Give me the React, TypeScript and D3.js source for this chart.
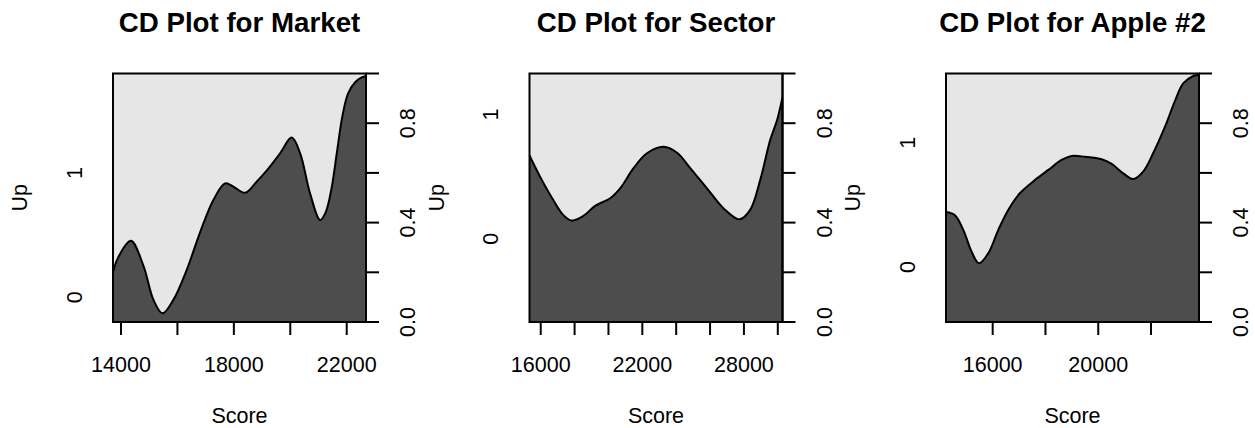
import React from "react";
import * as d3 from "d3";

// Conditional density of "Up" given Score, one panel per universe
const titles = ["CD Plot for Market", "CD Plot for Sector", "CD Plot for Apple #2"];

const marketScore = [13716, 13900, 14350, 14790, 15150, 15470, 15860, 16330, 16800, 17270, 17690, 17980, 18400, 18810, 19170, 19640, 20050, 20350, 20700, 21060, 21250, 21450, 21650, 21850, 22050, 22300, 22500, 22684];
const marketUp = [0.2, 0.26, 0.327, 0.228, 0.089, 0.035, 0.09, 0.21, 0.36, 0.49, 0.558, 0.545, 0.52, 0.565, 0.61, 0.679, 0.742, 0.679, 0.518, 0.41, 0.44, 0.53, 0.68, 0.83, 0.92, 0.965, 0.982, 0.99];

const sectorScore = [15337, 15960, 16750, 17340, 17830, 18520, 19210, 20100, 20690, 21480, 22270, 23250, 24050, 24830, 25820, 26800, 27730, 28370, 28960, 29550, 29960, 30278];
const sectorUp = [0.67, 0.585, 0.49, 0.43, 0.408, 0.427, 0.467, 0.498, 0.538, 0.619, 0.679, 0.705, 0.681, 0.619, 0.538, 0.457, 0.413, 0.451, 0.571, 0.732, 0.813, 0.905];

const appleScore = [14231, 14570, 14890, 15200, 15480, 15830, 16210, 16590, 17030, 17600, 18110, 18610, 18990, 19500, 20130, 20510, 20950, 21330, 21700, 22080, 22530, 22920, 23220, 23600, 23790, 23818];
const appleUp = [0.443, 0.43, 0.37, 0.283, 0.236, 0.276, 0.37, 0.451, 0.518, 0.571, 0.612, 0.652, 0.668, 0.665, 0.655, 0.636, 0.598, 0.575, 0.605, 0.679, 0.786, 0.893, 0.96, 0.99, 0.994, 0.995];

const marketTicks = [14000, 16000, 18000, 20000, 22000];
const marketTickLabels = [14000, 18000, 22000];
const sectorTicks = [16000, 18000, 20000, 22000, 24000, 26000, 28000, 30000];
const sectorTickLabels = [16000, 22000, 28000];
const appleTicks = [16000, 18000, 20000, 22000];
const appleTickLabels = [16000, 20000];

const probTicks = [0, 0.2, 0.4, 0.6, 0.8, 1.0];
const probTickLabels = [0, 0.4, 0.8];
const classLabels = ["0", "1"];

const xLabel = "Score";
const yLabel = "Up";

const DARK = "#4D4D4D";
const LIGHT = "#E6E6E6";
const FONT = "'Liberation Sans', Arial, Helvetica, sans-serif";

const W = 1255;
const H = 428;
const TOP = 73.5;
const BOTTOM = 322;
const PW = 253;
const lefts = [113, 529.5, 946];
const AXIS_SIZE = 21.5;
const TITLE_SIZE = 27.7;
const TICK_LEN = 13;

type PanelSpec = {
  title: string;
  score: number[];
  up: number[];
  ticks: number[];
  tickLabels: number[];
};

const panels: PanelSpec[] = [
  { title: titles[0], score: marketScore, up: marketUp, ticks: marketTicks, tickLabels: marketTickLabels },
  { title: titles[1], score: sectorScore, up: sectorUp, ticks: sectorTicks, tickLabels: sectorTickLabels },
  { title: titles[2], score: appleScore, up: appleUp, ticks: appleTicks, tickLabels: appleTickLabels },
];

function Panel({ spec, left }: { spec: PanelSpec; left: number }) {
  const right = left + PW;
  const x = d3
    .scaleLinear()
    .domain([spec.score[0], spec.score[spec.score.length - 1]])
    .range([left, right]);
  const y = d3.scaleLinear().domain([0, 1]).range([BOTTOM, TOP]);
  const pts: [number, number][] = spec.score.map((s, i) => [s, spec.up[i]]);
  const curve = d3.curveCatmullRom.alpha(0.5);

  const area = d3
    .area<[number, number]>()
    .x((d) => x(d[0]))
    .y0(BOTTOM)
    .y1((d) => y(d[1]))
    .curve(curve);
  const line = d3
    .line<[number, number]>()
    .x((d) => x(d[0]))
    .y((d) => y(d[1]))
    .curve(curve);

  const cx = (left + right) / 2;
  const first = spec.up[0];
  const classPos = [first / 2, (first + 1) / 2];
  const fmtProb = d3.format(".1f");

  return (
    <g>
      <text x={cx} y={31.5} textAnchor="middle" fontFamily={FONT} fontWeight="bold" fontSize={TITLE_SIZE} fill="#000">
        {spec.title}
      </text>
      <clipPath id={"clip" + left}>
        <rect x={left} y={TOP} width={PW} height={BOTTOM - TOP} />
      </clipPath>
      <rect x={left} y={TOP} width={PW} height={BOTTOM - TOP} fill={LIGHT} />
      <g clipPath={`url(#clip${left})`}>
        <path d={area(pts) ?? ""} fill={DARK} />
        <path d={line(pts) ?? ""} fill="none" stroke="#000" strokeWidth={2} />
      </g>
      <rect x={left} y={TOP} width={PW} height={BOTTOM - TOP} fill="none" stroke="#000" strokeWidth={2} />

      {/* bottom axis */}
      {spec.ticks.map((t) => (
        <line key={"xt" + t} x1={x(t)} x2={x(t)} y1={BOTTOM} y2={BOTTOM + TICK_LEN} stroke="#000" strokeWidth={2} />
      ))}
      {spec.tickLabels.map((t) => (
        <text key={"xl" + t} x={x(t)} y={371.5} textAnchor="middle" fontFamily={FONT} fontSize={AXIS_SIZE} fill="#000">
          {String(t)}
        </text>
      ))}
      <text x={cx} y={423} textAnchor="middle" fontFamily={FONT} fontSize={AXIS_SIZE} fill="#000">
        {xLabel}
      </text>

      {/* right axis: conditional probability */}
      <line x1={right} x2={right} y1={y(0)} y2={y(1)} stroke="#000" strokeWidth={2} />
      {probTicks.map((t) => (
        <line key={"yt" + t} x1={right} x2={right + TICK_LEN} y1={y(t)} y2={y(t)} stroke="#000" strokeWidth={2} />
      ))}
      {probTickLabels.map((t) => (
        <text
          key={"yl" + t}
          transform={`translate(${right + 49},${y(t)}) rotate(-90)`}
          textAnchor="middle"
          fontFamily={FONT}
          fontSize={AXIS_SIZE}
          fill="#000"
        >
          {fmtProb(t)}
        </text>
      ))}

      {/* left axis: class labels at band midpoints */}
      {classLabels.map((c, i) => (
        <text
          key={"cl" + c}
          transform={`translate(${left - 31.3},${y(classPos[i])}) rotate(-90)`}
          textAnchor="middle"
          fontFamily={FONT}
          fontSize={AXIS_SIZE}
          fill="#000"
        >
          {c}
        </text>
      ))}
      <text
        transform={`translate(${left - 86},${(TOP + BOTTOM) / 2}) rotate(-90)`}
        textAnchor="middle"
        fontFamily={FONT}
        fontSize={AXIS_SIZE}
        fill="#000"
      >
        {yLabel}
      </text>
    </g>
  );
}

export default function App() {
  return (
    <svg
      width={W}
      height={H}
      viewBox={`0 0 ${W} ${H}`}
      style={{ position: "absolute", left: 0, top: 0, display: "block", background: "#fff" }}
    >
      <rect x={0} y={0} width={W} height={H} fill="#fff" />
      {panels.map((p, i) => (
        <Panel key={p.title} spec={p} left={lefts[i]} />
      ))}
    </svg>
  );
}
